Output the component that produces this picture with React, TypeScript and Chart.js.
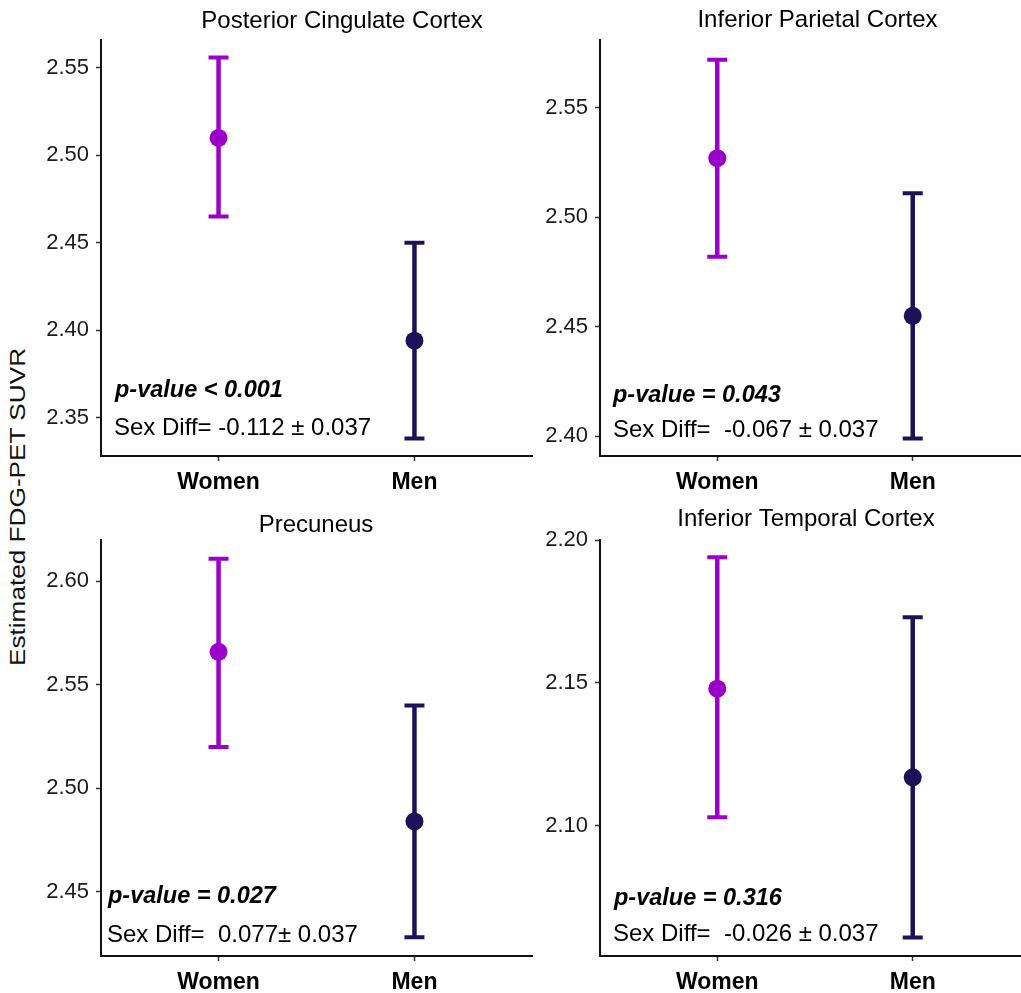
import React, { useEffect, useRef } from 'react';
import { Chart, registerables } from 'chart.js';

Chart.register(...registerables);

// ---------- data ----------
const categories = ['Women', 'Men'];
const regions = [
  'Posterior Cingulate Cortex',
  'Inferior Parietal Cortex',
  'Precuneus',
  'Inferior Temporal Cortex',
];
const womenMean = [2.510, 2.527, 2.566, 2.148];
const womenLower = [2.465, 2.482, 2.520, 2.103];
const womenUpper = [2.556, 2.572, 2.611, 2.194];
const menMean = [2.394, 2.455, 2.484, 2.117];
const menLower = [2.338, 2.399, 2.428, 2.061];
const menUpper = [2.450, 2.511, 2.540, 2.173];
const yMin = [2.328, 2.391, 2.419, 2.0545];
const yMax = [2.566, 2.581, 2.620, 2.200];
const yTicks = [
  [2.35, 2.40, 2.45, 2.50, 2.55],
  [2.40, 2.45, 2.50, 2.55],
  [2.45, 2.50, 2.55, 2.60],
  [2.10, 2.15, 2.20],
];
const pValueText = ['p-value < 0.001', 'p-value = 0.043', 'p-value = 0.027', 'p-value = 0.316'];
const sexDiffText = [
  'Sex Diff= -0.112 ± 0.037',
  'Sex Diff=  -0.067 ± 0.037',
  'Sex Diff=  0.077± 0.037',
  'Sex Diff=  -0.026 ± 0.037',
];
const yAxisTitle = 'Estimated FDG-PET SUVR';

// ---------- style / layout ----------
const FONT = '"Liberation Sans", Arial, Helvetica, sans-serif';
const WOMEN_COLOR = '#9B00C9';
const MEN_COLOR = '#1C1259';
const AXIS_COLOR = '#111111';
const CANVAS_H = 500;

const panels = [
  { left: 30, top: 0, width: 624, yAxisW: 71, rightSpace: 122, titleTop: 6.6, pDx: 14, pDy: 59, sDx: 13, sDy: 21 },
  { left: 530, top: 0, width: 575, yAxisW: 70, rightSpace: 75, titleTop: 5.6, pDx: 13, pDy: 54, sDx: 13, sDy: 19 },
  { left: 30, top: 500, width: 572, yAxisW: 71, rightSpace: 70, titleTop: 10.6, pDx: 7, pDy: 53, sDx: 6, sDy: 14 },
  { left: 530, top: 500, width: 552, yAxisW: 70, rightSpace: 52, titleTop: 4.6, pDx: 14, pDy: 51, sDx: 13, sDy: 15 },
];

function makeErrorBarPlugin() {
  return {
    id: 'errorBars',
    beforeDatasetsDraw(chart: any) {
      const { ctx } = chart;
      const xS = chart.scales.x;
      const yS = chart.scales.y;
      chart.data.datasets.forEach((ds: any) => {
        ds.data.forEach((pt: any) => {
          const x = xS.getPixelForValue(pt.x);
          const yl = yS.getPixelForValue(pt.lower);
          const yu = yS.getPixelForValue(pt.upper);
          ctx.save();
          ctx.strokeStyle = ds.backgroundColor;
          ctx.lineCap = 'butt';
          ctx.lineWidth = 4.5;
          ctx.beginPath();
          ctx.moveTo(x, yl);
          ctx.lineTo(x, yu);
          ctx.stroke();
          ctx.lineWidth = 4;
          ctx.beginPath();
          ctx.moveTo(x - 10, yu);
          ctx.lineTo(x + 10, yu);
          ctx.moveTo(x - 10, yl);
          ctx.lineTo(x + 10, yl);
          ctx.stroke();
          ctx.restore();
        });
      });
    },
  };
}

function makeAnnotationPlugin(idx: number) {
  const p = panels[idx];
  return {
    id: 'annot',
    afterDatasetsDraw(chart: any) {
      const { ctx, chartArea } = chart;
      ctx.save();
      ctx.fillStyle = '#000';
      ctx.textAlign = 'left';
      ctx.textBaseline = 'alphabetic';
      ctx.font = `italic bold 23.5px ${FONT}`;
      ctx.fillText(pValueText[idx], chartArea.left + p.pDx, chartArea.bottom - p.pDy);
      ctx.font = `24px ${FONT}`;
      ctx.fillText(sexDiffText[idx], chartArea.left + p.sDx, chartArea.bottom - p.sDy);
      ctx.restore();
    },
  };
}

function Panel({ idx }: { idx: number }) {
  const ref = useRef<HTMLCanvasElement | null>(null);
  const p = panels[idx];
  useEffect(() => {
    if (!ref.current) return;
    const chart = new Chart(ref.current, {
      type: 'scatter',
      data: {
        datasets: [
          {
            label: categories[0],
            yAxisID: 'y',
            data: [{ x: 1, y: womenMean[idx], lower: womenLower[idx], upper: womenUpper[idx] }] as any,
            backgroundColor: WOMEN_COLOR,
            borderColor: WOMEN_COLOR,
            pointRadius: 9,
            pointBorderWidth: 0,
          },
          {
            label: categories[1],
            yAxisID: 'y',
            data: [{ x: 2, y: menMean[idx], lower: menLower[idx], upper: menUpper[idx] }] as any,
            backgroundColor: MEN_COLOR,
            borderColor: MEN_COLOR,
            pointRadius: 9,
            pointBorderWidth: 0,
          },
        ],
      },
      options: {
        animation: false,
        responsive: false,
        maintainAspectRatio: false,
        events: [],
        layout: { padding: 0 },
        plugins: {
          legend: { display: false },
          tooltip: { enabled: false },
          title: {
            display: true,
            text: regions[idx],
            color: '#000',
            font: { family: FONT, size: 24, weight: 'normal' as any, lineHeight: 1.2 },
            padding: { top: p.titleTop, bottom: 11.2 - p.titleTop },
          },
        },
        scales: {
          x: {
            type: 'linear',
            min: 0.4,
            max: 2.6,
            afterBuildTicks: (s: any) => {
              s.ticks = categories.map((_, i) => ({ value: i + 1 }));
            },
            afterFit: (s: any) => {
              s.height = 44;
            },
            ticks: {
              autoSkip: false,
              maxRotation: 0,
              padding: 8,
              color: '#000',
              font: { family: FONT, size: 23, weight: 'bold' as any },
              callback: (v: any) => categories[Math.round(Number(v)) - 1] ?? '',
            },
            grid: { display: true, drawOnChartArea: false, drawTicks: true, tickLength: 5, tickColor: '#333', tickWidth: 1.5 },
            border: { display: true, color: AXIS_COLOR, width: 2 },
          },
          y: {
            type: 'linear',
            position: 'left',
            min: yMin[idx],
            max: yMax[idx],
            afterBuildTicks: (s: any) => {
              s.ticks = yTicks[idx].map((v) => ({ value: v }));
            },
            afterFit: (s: any) => {
              s.width = p.yAxisW;
            },
            ticks: {
              padding: 7,
              color: '#1a1a1a',
              font: { family: FONT, size: 22 },
              callback: (v: any) => Number(v).toFixed(2),
            },
            grid: { display: true, drawOnChartArea: false, drawTicks: true, tickLength: 5, tickColor: '#333', tickWidth: 1.5 },
            border: { display: true, color: AXIS_COLOR, width: 2 },
          },
          yR: {
            type: 'linear',
            position: 'right',
            display: true,
            ticks: { display: false },
            grid: { display: false },
            border: { display: false },
            afterFit: (s: any) => {
              s.width = p.rightSpace;
            },
          },
        },
      } as any,
      plugins: [makeErrorBarPlugin(), makeAnnotationPlugin(idx)],
    });
    return () => chart.destroy();
  }, [idx]);
  return (
    <canvas
      ref={ref}
      width={p.width}
      height={CANVAS_H}
      style={{ position: 'absolute', left: p.left, top: p.top, width: p.width, height: CANVAS_H }}
    />
  );
}

export default function App() {
  return (
    <div
      style={{
        position: 'absolute',
        left: 0,
        top: 0,
        width: 1021,
        height: 993,
        overflow: 'hidden',
        background: '#fff',
      }}
    >
      {regions.map((_, i) => (
        <Panel key={i} idx={i} />
      ))}
      <div
        style={{
          position: 'absolute',
          left: 17.5,
          top: 507,
          transform: 'translate(-50%, -50%) rotate(-90deg) scaleX(1.19)',
          fontFamily: FONT,
          fontSize: 22,
          lineHeight: 1,
          whiteSpace: 'nowrap',
          color: '#111',
        }}
      >
        {yAxisTitle}
      </div>
    </div>
  );
}
